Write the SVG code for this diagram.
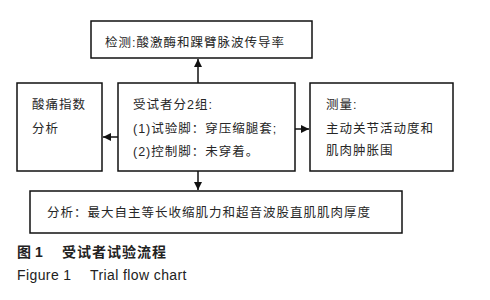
<svg xmlns="http://www.w3.org/2000/svg" width="490" height="300" viewBox="0 0 490 300">
<defs>
<style>
.box{fill:#fff;stroke:#111;stroke-width:1.5}
.t{font-family:"Liberation Sans","Noto Sans CJK SC",sans-serif;font-size:12.5px;fill:#262626;letter-spacing:1px}
.c{font-family:"Liberation Sans","Noto Sans CJK SC",sans-serif;font-size:14px;fill:#222}
.ln{stroke:#111;stroke-width:1.5;fill:none}
</style>
<marker id="ah" viewBox="0 0 10 10" refX="10" refY="5" markerWidth="8" markerHeight="8" markerUnits="userSpaceOnUse" orient="auto">
<path d="M0,0 L10,5 L0,10 z" fill="#111"/>
</marker>
</defs>
<rect width="490" height="300" fill="#fff"/>
<g id="connectors">
<line class="ln" x1="198" y1="83" x2="198" y2="59" marker-end="url(#ah)"/>
<line class="ln" x1="118" y1="137" x2="103" y2="137" marker-end="url(#ah)"/>
<line class="ln" x1="295" y1="129" x2="309" y2="129" marker-end="url(#ah)"/>
<line class="ln" x1="198" y1="171" x2="198" y2="190" marker-end="url(#ah)"/>
</g>
<g id="top">
<rect class="box" x="91" y="21" width="221" height="37"/>
<text class="t" x="105" y="47">检测:酸激酶和踝臂脉波传导率</text>
</g>
<g id="left">
<rect class="box" x="17" y="83" width="85" height="88"/>
<text class="t" x="32" y="109">酸痛指数</text>
<text class="t" x="32" y="133">分析</text>
</g>
<g id="center">
<rect class="box" x="118" y="83" width="177" height="88"/>
<text class="t" x="133" y="109">受试者分2组:</text>
<text class="t" x="133" y="133">(1)试验脚：穿压缩腿套;</text>
<text class="t" x="133" y="156">(2)控制脚：未穿着。</text>
</g>
<g id="right">
<rect class="box" x="310" y="83" width="143" height="88"/>
<text class="t" x="326" y="109">测量:</text>
<text class="t" x="326" y="133">主动关节活动度和</text>
<text class="t" x="326" y="155">肌肉肿胀围</text>
</g>
<g id="bottom">
<rect class="box" x="30" y="191" width="372" height="42"/>
<text class="t" x="47" y="217">分析：最大自主等长收缩肌力和超音波股直肌肌肉厚度</text>
</g>
<g id="caption">
<text class="c" y="257" font-weight="bold" letter-spacing="1"><tspan x="17">图</tspan><tspan x="35">1</tspan><tspan x="62">受试者试验流程</tspan></text>
<text class="c" y="280" letter-spacing="0.4"><tspan x="17">Figure 1</tspan><tspan x="90">Trial flow chart</tspan></text>
</g>
</svg>
